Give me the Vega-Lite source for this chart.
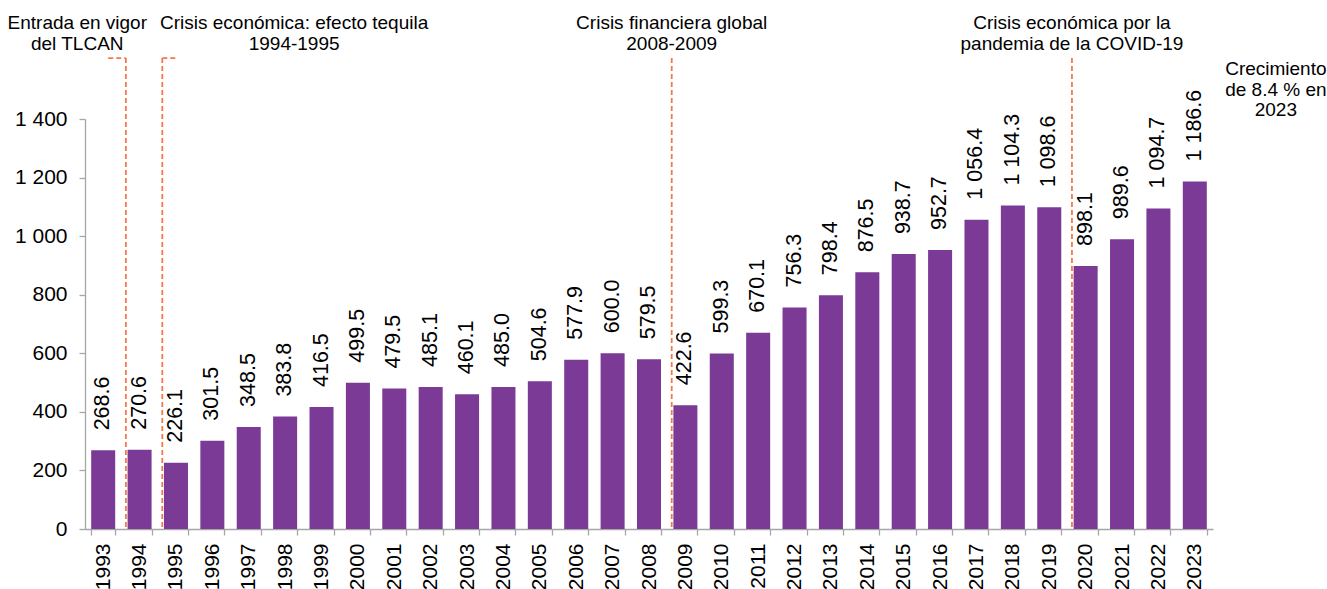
{
  "$schema": "https://vega.github.io/schema/vega-lite/v6.json",
  "width": 1128,
  "height": 410,
  "autosize": {"type": "none"},
  "padding": {"left": 85, "top": 119, "right": 114, "bottom": 60},
  "background": "white",
  "config": {
    "view": {"stroke": null},
    "font": "Liberation Sans",
    "locale": {"number": {"decimal": ".", "thousands": " ", "grouping": [3], "currency": ["$", ""]}},
    "axis": {
      "grid": false,
      "domainColor": "#A6A6A6",
      "tickColor": "#A6A6A6",
      "domainWidth": 1.3,
      "tickWidth": 1.3,
      "labelColor": "#000000",
      "labelFont": "Liberation Sans",
      "labelFontSize": 19
    }
  },
  "datasets": {
    "bars": [
      {"year": "1993", "value": 268.6},
      {"year": "1994", "value": 270.6},
      {"year": "1995", "value": 226.1},
      {"year": "1996", "value": 301.5},
      {"year": "1997", "value": 348.5},
      {"year": "1998", "value": 383.8},
      {"year": "1999", "value": 416.5},
      {"year": "2000", "value": 499.5},
      {"year": "2001", "value": 479.5},
      {"year": "2002", "value": 485.1},
      {"year": "2003", "value": 460.1},
      {"year": "2004", "value": 485.0},
      {"year": "2005", "value": 504.6},
      {"year": "2006", "value": 577.9},
      {"year": "2007", "value": 600.0},
      {"year": "2008", "value": 579.5},
      {"year": "2009", "value": 422.6},
      {"year": "2010", "value": 599.3},
      {"year": "2011", "value": 670.1},
      {"year": "2012", "value": 756.3},
      {"year": "2013", "value": 798.4},
      {"year": "2014", "value": 876.5},
      {"year": "2015", "value": 938.7},
      {"year": "2016", "value": 952.7},
      {"year": "2017", "value": 1056.4},
      {"year": "2018", "value": 1104.3},
      {"year": "2019", "value": 1098.6},
      {"year": "2020", "value": 898.1},
      {"year": "2021", "value": 989.6},
      {"year": "2022", "value": 1094.7},
      {"year": "2023", "value": 1186.6}
    ],
    "events": [
      {"year": "1994", "top": 1608, "bottom": 0},
      {"year": "1995", "top": 1608, "bottom": 0},
      {"year": "2009", "top": 1608, "bottom": 0},
      {"year": "2020", "top": 1608, "bottom": 0}
    ],
    "bracketLeft": [{"from": "1993", "to": "1994", "top": 1608}],
    "bracketRight": [{"from": "1995", "to": "1995", "top": 1608}],
    "noteTlcan": [{"year": "1993", "y": 1707, "label": "Entrada en vigor\ndel TLCAN"}],
    "noteTequila": [{"year": "1998", "y": 1707, "label": "Crisis económica: efecto tequila\n1994-1995"}],
    "noteCrisis": [
      {"year": "2009", "y": 1707, "label": "Crisis financiera global\n2008-2009"},
      {"year": "2020", "y": 1707, "label": "Crisis económica por la\npandemia de la COVID-19"}
    ],
    "noteGrowth": [{"year": "2023", "y": 1550, "label": "Crecimiento\nde 8.4 % en\n2023"}]
  },
  "layer": [
    {
      "data": {"name": "bars"},
      "mark": {"type": "bar", "color": "#7A3A96"},
      "encoding": {
        "x": {
          "field": "year",
          "type": "ordinal",
          "scale": {"paddingInner": 0.34, "paddingOuter": 0.17},
          "axis": {
            "title": null,
            "labelAngle": -90,
            "labelAlign": "right",
            "labelBaseline": "middle",
            "labelFontSize": 21,
            "tickBand": "extent",
            "tickSize": 6,
            "labelPadding": 8
          }
        },
        "y": {
          "field": "value",
          "type": "quantitative",
          "scale": {"domain": [0, 1400], "nice": false},
          "axis": {
            "title": null,
            "values": [0, 200, 400, 600, 800, 1000, 1200, 1400],
            "format": ",.0f",
            "labelFontSize": 21,
            "tickSize": 6,
            "labelPadding": 12
          }
        }
      }
    },
    {
      "data": {"name": "bars"},
      "mark": {"type": "text", "angle": -90, "align": "left", "baseline": "middle", "dx": 20, "fontSize": 21.5, "color": "#000000"},
      "encoding": {
        "x": {"field": "year", "type": "ordinal"},
        "y": {"field": "value", "type": "quantitative"},
        "text": {"field": "value", "type": "quantitative", "format": ",.1f"}
      }
    },
    {
      "data": {"name": "events"},
      "mark": {"type": "rule", "color": "#F5784B", "strokeWidth": 1.8, "strokeDash": [5, 3]},
      "encoding": {
        "x": {"field": "year", "type": "ordinal", "bandPosition": -0.07},
        "y": {"field": "top", "type": "quantitative"},
        "y2": {"field": "bottom"}
      }
    },
    {
      "data": {"name": "bracketLeft"},
      "mark": {"type": "rule", "color": "#F5784B", "strokeWidth": 1.8, "strokeDash": [5, 3]},
      "encoding": {
        "x": {"field": "from", "type": "ordinal", "bandPosition": 0.71},
        "x2": {"field": "to", "bandPosition": -0.07},
        "y": {"field": "top", "type": "quantitative"}
      }
    },
    {
      "data": {"name": "bracketRight"},
      "mark": {"type": "rule", "color": "#F5784B", "strokeWidth": 1.8, "strokeDash": [5, 3]},
      "encoding": {
        "x": {"field": "from", "type": "ordinal", "bandPosition": -0.07},
        "x2": {"field": "to", "bandPosition": 0.58},
        "y": {"field": "top", "type": "quantitative"}
      }
    },
    {
      "data": {"name": "noteTlcan"},
      "mark": {"type": "text", "align": "center", "baseline": "alphabetic", "lineBreak": "\n", "lineHeight": 21, "fontSize": 19, "color": "#000000"},
      "encoding": {
        "x": {"field": "year", "type": "ordinal", "bandPosition": -0.58},
        "y": {"field": "y", "type": "quantitative"},
        "text": {"field": "label", "type": "nominal"}
      }
    },
    {
      "data": {"name": "noteTequila"},
      "mark": {"type": "text", "align": "center", "baseline": "alphabetic", "lineBreak": "\n", "lineHeight": 21, "fontSize": 19, "color": "#000000"},
      "encoding": {
        "x": {"field": "year", "type": "ordinal", "bandPosition": 0.875},
        "y": {"field": "y", "type": "quantitative"},
        "text": {"field": "label", "type": "nominal"}
      }
    },
    {
      "data": {"name": "noteCrisis"},
      "mark": {"type": "text", "align": "center", "baseline": "alphabetic", "lineBreak": "\n", "lineHeight": 21, "fontSize": 19, "color": "#000000"},
      "encoding": {
        "x": {"field": "year", "type": "ordinal", "bandPosition": -0.07},
        "y": {"field": "y", "type": "quantitative"},
        "text": {"field": "label", "type": "nominal"}
      }
    },
    {
      "data": {"name": "noteGrowth"},
      "mark": {"type": "text", "align": "center", "baseline": "alphabetic", "lineBreak": "\n", "lineHeight": 20.5, "fontSize": 19, "color": "#000000"},
      "encoding": {
        "x": {"field": "year", "type": "ordinal", "bandPosition": 3.875},
        "y": {"field": "y", "type": "quantitative"},
        "text": {"field": "label", "type": "nominal"}
      }
    }
  ]
}
